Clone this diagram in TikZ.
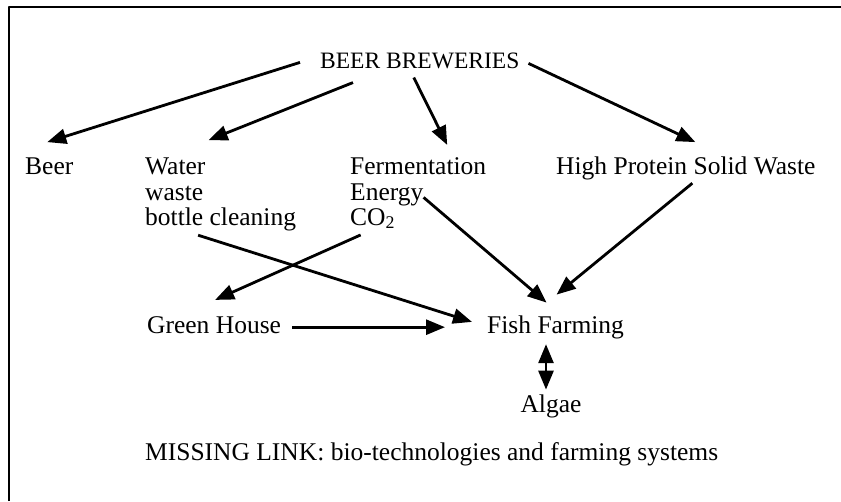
\documentclass[tikz,border=0pt]{standalone}
\usepackage{fontspec}
\setmainfont{Liberation Serif}
\usetikzlibrary{arrows.meta}
\begin{document}
\begin{tikzpicture}[x=1pt,y=-1pt,>={Triangle[length=19pt,width=15pt]},line join=round,font=\fontsize{25.5}{28}\selectfont,
	lbl/.style={inner sep=0pt,anchor=base west},
	flow/.style={->,line width=2.8pt}]
	\useasboundingbox (0,0) rectangle (841,501);
	\draw[line width=2.5pt] (9,501)--(9,7)--(841,7);
	% source and products
	\node[lbl,font=\fontsize{23.5}{26}\selectfont] (brew) at (320,68) {BEER BREWERIES};
	\node[lbl] (beer) at (25,174) {Beer};
	\node[lbl] (water) at (145,174) {Water};
	\node[lbl] (waste) at (145,200) {waste};
	\node[lbl] (bottle) at (145,225) {bottle cleaning};
	\node[lbl] (ferm) at (350,174) {Fermentation};
	\node[lbl] (energy) at (350,200) {Energy};
	\node[lbl] (co2) at (350,225) {CO\textsubscript{2}};
	\node[lbl] (hpsw) at (556,174) {High Protein Solid Waste};
	% farming
	\node[lbl] (green) at (147,333) {Green House};
	\node[lbl] (fish) at (487,333) {Fish Farming};
	\node[inner sep=0pt,anchor=base] (algae) at (551,412) {Algae};
	\node[lbl] (missing) at (145,460) {MISSING LINK: bio-technologies and farming systems};
	% links
	\draw[flow] ([xshift=-20pt,yshift=-2pt]brew.west) -- ([xshift=-2pt,yshift=15pt]beer.north);
	\draw[flow] ([xshift=33pt,yshift=-14pt]brew.south west) -- ([xshift=3pt,yshift=17pt]water.north east);
	\draw[flow] ([xshift=-6pt,yshift=-9pt]brew.south) -- ([xshift=29pt,yshift=12pt]ferm.north);
	\draw[flow] ([xshift=9pt,yshift=-3pt]brew.east) -- ([xshift=9.5pt,yshift=14pt]hpsw.north);
	\draw[flow] ([yshift=-3pt]energy.east) -- ([xshift=-9pt,yshift=12.5pt]fish.north);
	\draw[flow] ([xshift=6.5pt,yshift=-3.5pt]hpsw.south) -- ([xshift=1pt,yshift=20.5pt]fish.north);
	\draw[flow] ([xshift=-22.5pt,yshift=-4.5pt]bottle.south) -- ([xshift=-15pt,yshift=5pt]fish.west);
	\draw[flow] ([xshift=-12pt,yshift=-6pt]co2.south) -- ([xshift=1pt,yshift=16pt]green.north);
	\draw[flow] ([xshift=11pt,yshift=-2.5pt]green.east) -- ([xshift=-42pt,yshift=-2.5pt]green.east -| fish.west);
	\draw[flow,<->,shorten <=5.5pt,shorten >=4.5pt] ([xshift=-5pt]fish.south -| algae.north) -- ([xshift=-5pt]algae.north);
\end{tikzpicture}
\end{document}
